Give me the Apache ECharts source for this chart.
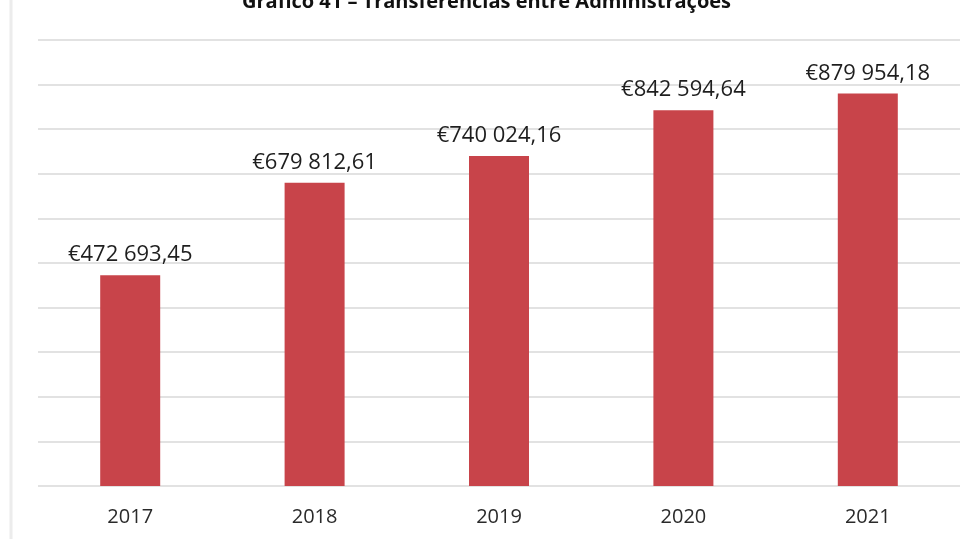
<!DOCTYPE html>
<html>
<head>
<meta charset="utf-8">
<script src="https://cdn.jsdelivr.net/npm/echarts@6/dist/echarts.min.js"></script>
<style>
    html, body { margin: 0; padding: 0; background: #fff; }
    #chart { width: 973px; height: 539px; }
</style>
</head>
<body>
<div id="chart"></div>
<script>
// dados do gráfico
var anos = ['2017', '2018', '2019', '2020', '2021'];
var valores = [472693.45, 679812.61, 740024.16, 842594.64, 879954.18];
var titulo = 'Gráfico 41 – Transferências entre Administrações';

// formato €123 456,78
function fmtEuro(v) {
    var parts = v.toFixed(2).split('.');
    var inteiro = parts[0].replace(/\B(?=(\d{3})+(?!\d))/g, ' ');
    return '€' + inteiro + ',' + parts[1];
}

var chart = echarts.init(document.getElementById('chart'));
var opt = {
    backgroundColor: '#fff',
    animation: false,
    title: {
        text: titulo,
        left: 'center',
        top: -13,
        textStyle: {
            fontFamily: 'Open Sans',
            fontWeight: 'bold',
            fontSize: 20,
            color: '#111'
        }
    },
    grid: { left: 38, right: 13, top: 40, bottom: 53 },
    xAxis: {
        type: 'category',
        data: anos,
        axisLine: { show: false },
        axisTick: { show: false },
        axisLabel: {
            margin: 21,
            fontFamily: 'Open Sans',
            fontSize: 20,
            color: '#2a2a2a'
        }
    },
    yAxis: {
        type: 'value',
        min: 0,
        max: 1000000,
        interval: 100000,
        axisLabel: { show: false },
        axisLine: { show: false },
        axisTick: { show: false },
        splitLine: { lineStyle: { color: '#e2e2e2', width: 2 } }
    },
    series: [{
        type: 'bar',
        data: valores,
        barWidth: 60,
        itemStyle: { color: '#c8444a' },
        label: {
            show: true,
            position: 'top',
            distance: 9,
            fontFamily: 'Open Sans',
            fontSize: 22,
            color: '#1e1e1e',
            formatter: function (p) { return fmtEuro(p.value); }
        }
    }],
    graphic: [{
        type: 'line',
        shape: { x1: 11, y1: 0, x2: 11, y2: 539 },
        style: { stroke: '#ececec', lineWidth: 3 }
    }]
};
chart.setOption(opt);
</script>
</body>
</html>
